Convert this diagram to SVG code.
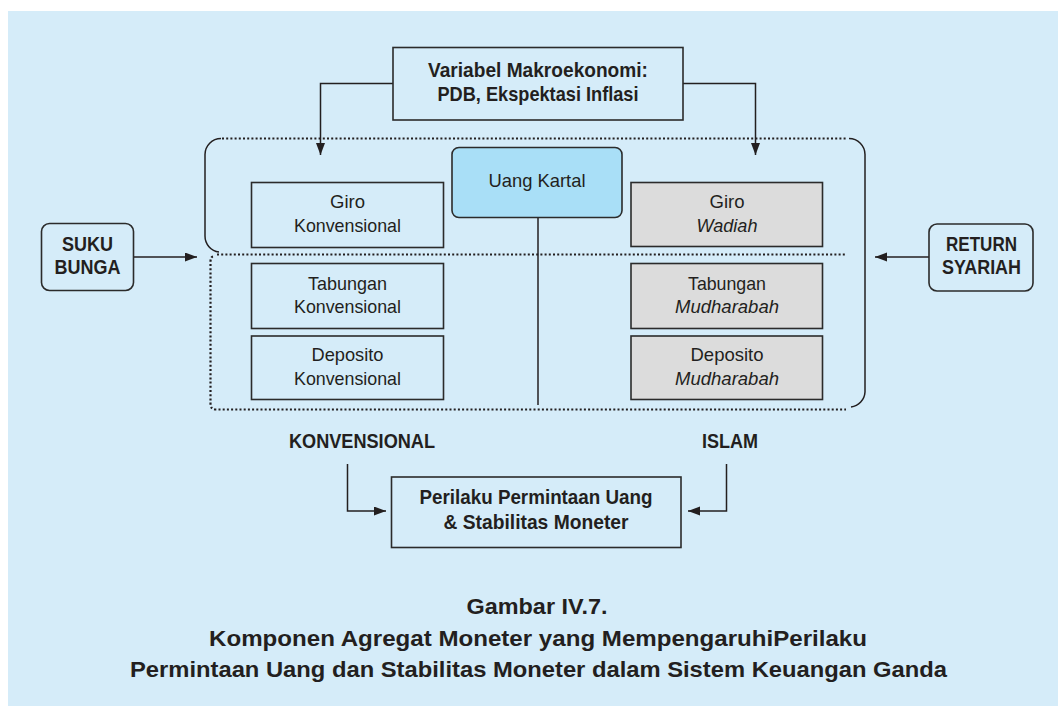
<svg xmlns="http://www.w3.org/2000/svg" width="1058" height="706" viewBox="0 0 1058 706">
<defs>
<marker id="ah" markerUnits="userSpaceOnUse" markerWidth="13" markerHeight="10" refX="12" refY="4.5" orient="auto">
<path d="M0,0 L12,4.5 L0,9 Z" fill="#231f20"/>
</marker>
<style>
.bx{fill:none;stroke:#2b2b2b;stroke-width:1.6}
.gr{fill:#dcdcdc;stroke:#2b2b2b;stroke-width:1.6}
.uk{fill:#a9dff7;stroke:#2b2b2b;stroke-width:1.6}
.ln{fill:none;stroke:#231f20;stroke-width:1.5}
.dt{fill:none;stroke:#231f20;stroke-width:2.2;stroke-dasharray:2 2.2}
text{font-family:"Liberation Sans","Open Sans",Arial,sans-serif;fill:#231f20;text-anchor:middle}
.b{font-weight:bold}
.r{font-size:18.5px}
.i{font-style:italic}
</style>
</defs>
<rect x="8" y="11" width="1050" height="695" fill="#d5ecf9"/>

<g id="frame">
<path class="dt" d="M222,138.5 H846"/>
<path class="ln" d="M221,138.5 A16,16 0 0 0 205,154.5 V236 A16,16 0 0 0 219,252"/>
<path class="dt" d="M217,254.5 H846"/>
<path class="ln" d="M849,138.5 A16,16 0 0 1 865,154.5 V392 A16,16 0 0 1 851,407"/>
<path class="dt" d="M213,256.5 Q210.5,257 210.5,262 V404 Q210.5,409.5 216,409.5 H846"/>
</g>

<g id="connectors">
<path class="ln" d="M393,83.5 H320.5 V155" marker-end="url(#ah)"/>
<path class="ln" d="M683,83.5 H755.5 V155" marker-end="url(#ah)"/>
<path class="ln" d="M133,257 H197" marker-end="url(#ah)"/>
<path class="ln" d="M929,257 H875" marker-end="url(#ah)"/>
<path class="ln" d="M347.5,464 V511 H386" marker-end="url(#ah)"/>
<path class="ln" d="M726.5,464 V511 H688" marker-end="url(#ah)"/>
<path class="ln" d="M538,217.5 V405"/>
</g>

<g id="makro">
<rect class="bx" x="393" y="47.5" width="290" height="72.5"/>
<text class="b" font-size="21" x="538" y="77" textLength="220" lengthAdjust="spacingAndGlyphs">Variabel Makroekonomi:</text>
<text class="b" font-size="21" x="538" y="101" textLength="201" lengthAdjust="spacingAndGlyphs">PDB, Ekspektasi Inflasi</text>
</g>

<g id="uang-kartal">
<rect class="uk" x="452" y="147.5" width="170" height="70" rx="7"/>
<text class="r" x="537" y="187" textLength="97" lengthAdjust="spacingAndGlyphs">Uang Kartal</text>
</g>

<g id="giro-konv">
<rect class="bx" x="251.5" y="182.5" width="192" height="65"/>
<text class="r" x="347.5" y="207.5" textLength="35" lengthAdjust="spacingAndGlyphs">Giro</text>
<text class="r" x="347.5" y="232" textLength="107" lengthAdjust="spacingAndGlyphs">Konvensional</text>
</g>

<g id="tabungan-konv">
<rect class="bx" x="251.5" y="263.5" width="192" height="65"/>
<text class="r" x="347.5" y="289.5" textLength="79" lengthAdjust="spacingAndGlyphs">Tabungan</text>
<text class="r" x="347.5" y="313" textLength="107" lengthAdjust="spacingAndGlyphs">Konvensional</text>
</g>

<g id="deposito-konv">
<rect class="bx" x="251.5" y="336" width="192" height="63.5"/>
<text class="r" x="347.5" y="361" textLength="72" lengthAdjust="spacingAndGlyphs">Deposito</text>
<text class="r" x="347.5" y="384.5" textLength="107" lengthAdjust="spacingAndGlyphs">Konvensional</text>
</g>

<g id="giro-wadiah">
<rect class="gr" x="631" y="182.5" width="191.5" height="64"/>
<text class="r" x="727" y="207.5" textLength="35" lengthAdjust="spacingAndGlyphs">Giro</text>
<text class="r i" x="727" y="231.5" textLength="61" lengthAdjust="spacingAndGlyphs">Wadiah</text>
</g>

<g id="tabungan-mudharabah">
<rect class="gr" x="631" y="263.5" width="191.5" height="65"/>
<text class="r" x="727" y="289.5" textLength="78" lengthAdjust="spacingAndGlyphs">Tabungan</text>
<text class="r i" x="727" y="313" textLength="104" lengthAdjust="spacingAndGlyphs">Mudharabah</text>
</g>

<g id="deposito-mudharabah">
<rect class="gr" x="631" y="336" width="191.5" height="63.5"/>
<text class="r" x="727" y="361" textLength="73" lengthAdjust="spacingAndGlyphs">Deposito</text>
<text class="r i" x="727" y="384.5" textLength="104" lengthAdjust="spacingAndGlyphs">Mudharabah</text>
</g>

<g id="suku-bunga">
<rect class="bx" x="41.5" y="223.5" width="92" height="67" rx="8"/>
<text class="b" font-size="20" x="87.5" y="251" textLength="51" lengthAdjust="spacingAndGlyphs">SUKU</text>
<text class="b" font-size="20" x="87.5" y="273.5" textLength="66" lengthAdjust="spacingAndGlyphs">BUNGA</text>
</g>

<g id="return-syariah">
<rect class="bx" x="929" y="224" width="104" height="67" rx="8"/>
<text class="b" font-size="20" x="981.5" y="251" textLength="71" lengthAdjust="spacingAndGlyphs">RETURN</text>
<text class="b" font-size="20" x="981.5" y="274" textLength="79" lengthAdjust="spacingAndGlyphs">SYARIAH</text>
</g>

<g id="label-konvensional">
<text class="b" font-size="21" x="362" y="448" textLength="146" lengthAdjust="spacingAndGlyphs">KONVENSIONAL</text>
</g>
<g id="label-islam">
<text class="b" font-size="21" x="730" y="448" textLength="56" lengthAdjust="spacingAndGlyphs">ISLAM</text>
</g>

<g id="perilaku">
<rect class="bx" x="391.5" y="477" width="289.5" height="70.5"/>
<text class="b" font-size="21" x="536" y="503.5" textLength="233" lengthAdjust="spacingAndGlyphs">Perilaku Permintaan Uang</text>
<text class="b" font-size="21" x="536" y="529" textLength="185" lengthAdjust="spacingAndGlyphs">&amp; Stabilitas Moneter</text>
</g>

<g id="caption">
<text class="b" font-size="22" x="537" y="614" textLength="141" lengthAdjust="spacingAndGlyphs">Gambar IV.7.</text>
<text class="b" font-size="22" x="538" y="646" textLength="658" lengthAdjust="spacingAndGlyphs">Komponen Agregat Moneter yang MempengaruhiPerilaku</text>
<text class="b" font-size="22" x="538.5" y="677" textLength="817" lengthAdjust="spacingAndGlyphs">Permintaan Uang dan Stabilitas Moneter dalam Sistem Keuangan Ganda</text>
</g>
</svg>
